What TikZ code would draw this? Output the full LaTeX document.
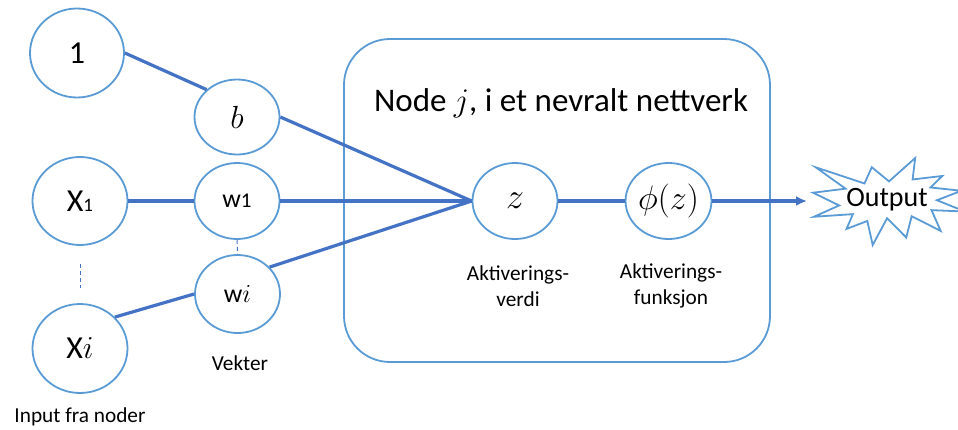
\RequirePackage{fix-cm}
\documentclass[tikz,border=0pt]{standalone}
\usepackage{fontspec}
\setmainfont{Carlito}
\usetikzlibrary{shapes.geometric,arrows.meta}
\definecolor{lineblue}{HTML}{4472C4}
\definecolor{ringblue}{HTML}{5B9BD5}
\tikzset{
  ring/.style={ellipse, draw=ringblue, line width=1.8pt, fill=white, inner sep=0pt},
  wire/.style={draw=lineblue, line width=3.2pt},
  thin dash/.style={draw=lineblue, line width=1pt, dash pattern=on 4pt off 3pt},
  lbl/.style={font=\fontsize{21.3}{26}\selectfont, align=center, inner sep=0pt},
  big/.style={font=\fontsize{32}{38}\selectfont},
}
\begin{document}
\begin{tikzpicture}[x=1pt,y=-1pt]
\path[use as bounding box, clip] (0,0) rectangle (958,429);
% big rounded box
\draw[ringblue, line width=1.8pt, rounded corners=46pt] (344,39) rectangle (770,362);
\node[inner sep=0pt, font=\fontsize{33}{38}\selectfont] (title) at (561,103) {Node $j$, i et nevralt nettverk};

% input nodes
\node[ring, big, minimum width=94pt, minimum height=89pt] (one) at (77,53) {1};
\node[ring, minimum width=95pt, minimum height=88pt] (X1) at (80,201) {\fontsize{32}{38}\selectfont X\fontsize{19}{22}\selectfont 1};
\node[ring, minimum width=95pt, minimum height=89pt] (Xi) at (80,348.5) {\fontsize{32}{38}\selectfont X$i$};

% weights
\node[ring, big, minimum width=85pt, minimum height=75pt] (b) at (237,117) {$b$};
\node[ring, minimum width=85pt, minimum height=76pt] (w1) at (237,201) {\fontsize{26}{30}\selectfont w\fontsize{21}{26}\selectfont 1};
\node[ring, minimum width=85pt, minimum height=78pt] (wi) at (237.5,294) {\fontsize{26}{30}\selectfont w$i$};

% node j
\node[ring, minimum width=85pt, minimum height=76pt, font=\fontsize{36}{40}\selectfont] (z) at (515,201) {$z$};
\node[ring, minimum width=84pt, minimum height=76pt, font=\fontsize{34}{40}\selectfont] (phi) at (668.5,201) {$\phi(z)$};

% labels
\node[lbl] (vekter) at (240,363) {Vekter};
\node[lbl] (input) at (80,417) {Input fra noder};
\node[lbl] (lz) at (518,286) {Aktiverings-\\verdi};
\node[lbl] (lphi) at (671,286) {Aktiverings-\\funksjon};

% wires
\draw[wire] (one.east) -- (b.138);
\draw[wire] (b.east) -- (z.west);
\draw[wire] (X1.east) -- (w1.west);
\draw[wire] (w1.east) -- (z.west);
\draw[wire] (Xi.42) -- (wi.west);
\draw[wire] (wi.40) -- (z.west);
\draw[wire] (z.east) -- (phi.west);
\coordinate (tip) at (807,201);
\draw[wire, -{Latex[length=11pt,width=10pt]}] (phi.east) -- (tip);

% dashed connectors
\draw[thin dash] ([yshift=-18pt]X1.south) -- ([yshift=15pt]Xi.north);
\draw[thin dash] (w1.south) -- (wi.north);

% output explosion
\begin{scope}[shift={(813,158)}, x=0.7037pt, y=-0.4028pt]
\draw[ringblue, line width=1.8pt, fill=white, line join=miter]
  (108,58) -- (145.22,0) -- (141.55,53.25) -- (183.80,44.57) -- (167.02,73.15)
  -- (210.97,81.37) -- (176.07,104.75) -- (216,132.90) -- (168.37,129.42)
  -- (181.45,180.95) -- (140.20,144.57) -- (132.47,197.37) -- (105.32,149.35)
  -- (84.85,216) -- (77.15,156.27) -- (47.62,176.17) -- (56.67,139.37)
  -- (1.35,145.87) -- (37.22,117.75) -- (0,86.15) -- (46.27,76.17)
  -- (3.70,22.95) -- (73.12,63.20) -- (83.52,22.95) -- cycle;
\end{scope}
\node[inner sep=0pt, font=\fontsize{28}{34}\selectfont] (out) at (887,200) {Output};
\end{tikzpicture}
\end{document}
